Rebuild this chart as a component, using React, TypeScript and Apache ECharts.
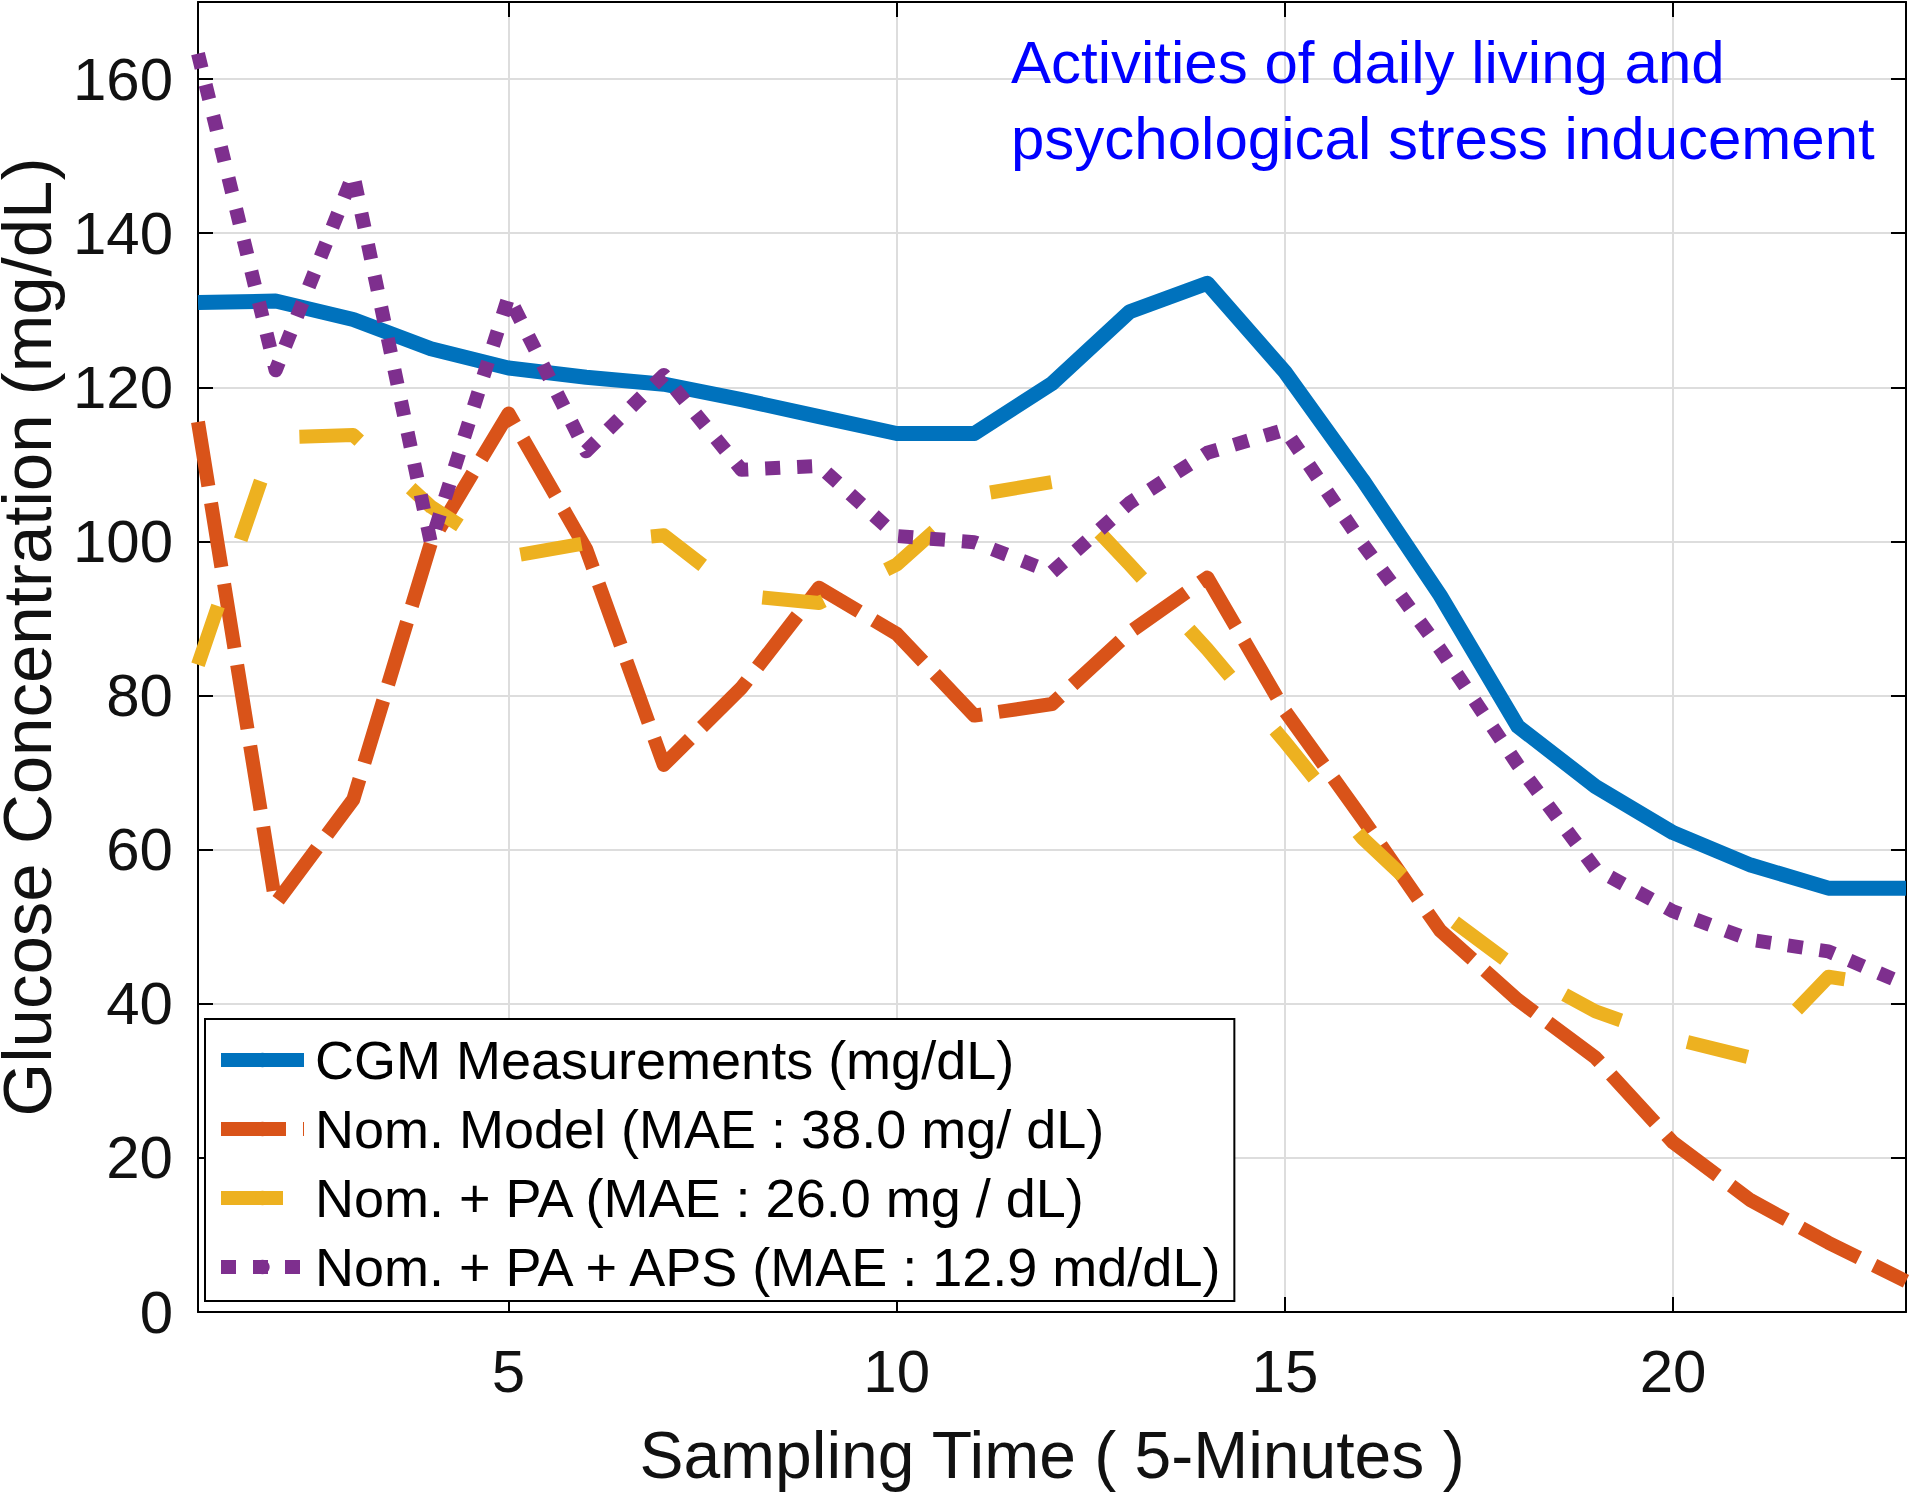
import React, { useEffect, useRef } from 'react';
import * as echarts from 'echarts';

// Sampling instants (5-minute steps)
const samplingTime = [1, 2, 3, 4, 5, 6, 7, 8, 9, 10, 11, 12, 13, 14, 15, 16, 17, 18, 19, 20, 21, 22, 23];

// CGM Measurements (mg/dL)
const cgm = [131, 131.2, 128.8, 125, 122.5, 121.3, 120.4, 118.4, 116.2, 114, 114, 120.5, 129.8, 133.5, 122, 108, 93, 76, 68.2, 62.2, 58, 55, 55];
// Nom. Model
const nomModel = [115.5, 53, 66.5, 99.8, 116.6, 99, 71, 81, 94, 88, 77.4, 78.9, 88.2, 95.3, 78, 64, 49.5, 40.5, 33, 22, 14.5, 9, 4];
// Nom. + PA
const nomPA = [84, 113.5, 113.8, 104.5, 98, 99.8, 100.8, 93, 92, 97, 106, 107.7, 97, 86, 74, 61.5, 52, 44.5, 39, 35.5, 33, 43.5, 42];
// Nom. + PA + APS
const nomPAAPS = [163.3, 122.2, 147.6, 99.8, 131.8, 111.7, 121.6, 109.3, 109.8, 100.7, 99.9, 96, 105, 111.5, 114.5, 99.7, 86, 71, 57.5, 52, 48.3, 46.8, 42.5];

const seriesNames = [
  'CGM Measurements (mg/dL)',
  'Nom. Model (MAE : 38.0 mg/ dL)',
  'Nom. + PA (MAE : 26.0 mg / dL)',
  'Nom. + PA + APS (MAE : 12.9 md/dL)',
];
const seriesColors = ['#0072BD', '#D95319', '#EDB120', '#7E2F8E'];

const xAxisTitle = 'Sampling Time ( 5-Minutes )';
const yAxisTitle = 'Glucose Concentration (mg/dL)';
const annotationLines = ['Activities of daily living and', 'psychological stress inducement'];

const FONT = "'Liberation Sans', Arial, Helvetica, sans-serif";

export default function App() {
  const ref = useRef<HTMLDivElement>(null);

  useEffect(() => {
    document.body.style.margin = '0';
    const chart = echarts.init(ref.current as HTMLDivElement, null, { renderer: 'svg' });
    const pair = (arr: number[]) => samplingTime.map((x, i) => [x, arr[i]]);
    const dashes: (string | number[])[] = ['solid', [65, 17], [62, 70], [15, 17]];
    const widths = [15, 14, 14, 14];
    const allData = [cgm, nomModel, nomPA, nomPAAPS];

    const axisLineStyle = { color: '#000', width: 2 };
    const tickStyle = { inside: true, length: 15, lineStyle: { color: '#000', width: 2 } };
    const gridLine = { show: true, lineStyle: { color: '#dddddd', width: 2 } };

    const option: any = {
      animation: false,
      backgroundColor: '#ffffff',
      grid: { left: 198, right: 14, top: 2, bottom: 183, containLabel: false, outerBoundsMode: 'none' },
      xAxis: [
        {
          type: 'value',
          min: 1,
          max: 23,
          splitNumber: 5,
          position: 'bottom',
          axisLine: { show: true, onZero: false, lineStyle: axisLineStyle },
          axisTick: tickStyle,
          axisLabel: {
            fontSize: 60,
            lineHeight: 60,
            margin: 29,
            color: '#111',
            fontFamily: FONT,
            showMinLabel: false,
            showMaxLabel: false,
          },
          splitLine: gridLine,
          name: xAxisTitle,
          nameLocation: 'middle',
          nameGap: 110,
          nameTextStyle: { fontSize: 66, lineHeight: 66, color: '#111', fontFamily: FONT },
        },
        {
          type: 'value',
          min: 1,
          max: 23,
          splitNumber: 5,
          position: 'top',
          axisLine: { show: true, onZero: false, lineStyle: axisLineStyle },
          axisTick: tickStyle,
          axisLabel: { show: false },
          splitLine: { show: false },
        },
      ],
      yAxis: [
        {
          type: 'value',
          min: 0,
          max: 170,
          interval: 20,
          position: 'left',
          axisLine: { show: true, onZero: false, lineStyle: axisLineStyle },
          axisTick: tickStyle,
          axisLabel: {
            fontSize: 60,
            lineHeight: 60,
            margin: 25,
            color: '#111',
            fontFamily: FONT,
            showMaxLabel: false,
          },
          splitLine: gridLine,
          name: yAxisTitle,
          nameLocation: 'middle',
          nameGap: 130,
          nameTextStyle: { fontSize: 69, lineHeight: 60, color: '#111', fontFamily: FONT, padding: [0, 0, 0, 40] },
        },
        {
          type: 'value',
          min: 0,
          max: 170,
          interval: 20,
          position: 'right',
          axisLine: { show: true, onZero: false, lineStyle: axisLineStyle },
          axisTick: tickStyle,
          axisLabel: { show: false },
          splitLine: { show: false },
        },
      ],
      legend: {
        orient: 'vertical',
        left: 205,
        top: 1019,
        itemWidth: 83,
        itemHeight: 18,
        itemGap: 13,
        padding: [13, 8, 6, 9],
        borderColor: '#000',
        borderWidth: 2,
        borderRadius: 0,
        backgroundColor: '#ffffff',
        selectedMode: false,
        textStyle: { fontSize: 54, lineHeight: 56, color: '#000', fontFamily: FONT, padding: [0, 0, 0, 6] },
        data: seriesNames.map((name, i) => ({
          name,
          lineStyle: { color: seriesColors[i], width: 14, type: dashes[i], cap: 'butt' },
        })),
      },
      series: seriesNames.map((name, i) => ({
        name,
        type: 'line',
        xAxisIndex: 0,
        yAxisIndex: 0,
        symbol: 'none',
        showSymbol: false,
        clip: true,
        data: pair(allData[i]),
        itemStyle: { color: seriesColors[i] },
        lineStyle: { color: seriesColors[i], width: widths[i], type: dashes[i], cap: 'butt', join: 'round' },
      })),
      graphic: [
        {
          type: 'text',
          left: 1011,
          top: 24,
          z: 100,
          style: {
            text: annotationLines.join('\n'),
            fontSize: 60,
            lineHeight: 76,
            fill: '#0000ff',
            fontFamily: FONT,
          },
        },
      ],
    };

    chart.setOption(option);
    return () => chart.dispose();
  }, []);

  return <div ref={ref} style={{ width: 1920, height: 1495 }} />;
}
